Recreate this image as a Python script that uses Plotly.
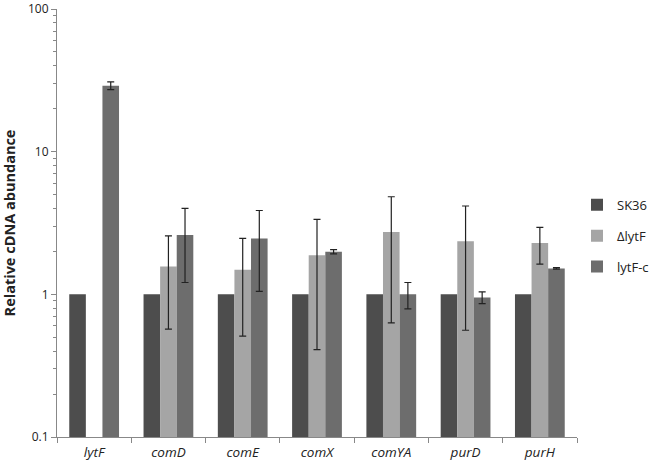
import plotly.graph_objects as go

genes = ["lytF", "comD", "comE", "comX", "comYA", "purD", "purH"]
series_names = ["SK36", "ΔlytF", "lytF-c"]
sk36 = [1, 1, 1, 1, 1, 1, 1]
sk36_err = [0, 0, 0, 0, 0, 0, 0]
dlytf = [None, 1.57, 1.49, 1.88, 2.73, 2.36, 2.29]
dlytf_err = [0, 1.0, 0.98, 1.47, 2.1, 1.8, 0.66]
lytfc = [29, 2.61, 2.46, 1.99, 1.0, 0.95, 1.52]
lytfc_err = [1.8, 1.4, 1.41, 0.07, 0.21, 0.09, 0.02]
colors = ["#4d4d4d", "#a5a5a5", "#6d6d6d"]
major_ticks = [0.1, 1, 10, 100]
major_labels = ["0.1", "1", "10", "100"]
minor_ticks = [m * d for d in (0.1, 1, 10) for m in range(2, 10)]

fig = go.Figure()
for name, vals, errs, col, show_err in [
    (series_names[0], sk36, sk36_err, colors[0], False),
    (series_names[1], dlytf, dlytf_err, colors[1], True),
    (series_names[2], lytfc, lytfc_err, colors[2], True),
]:
    fig.add_trace(go.Bar(
        x=genes, y=vals, name=name, legendgroup=name,
        marker=dict(color=col, line=dict(width=0)),
        error_y=dict(type="data", array=errs, visible=show_err,
                     color="#222222", thickness=1.2, width=3.5),
    ))

fig.update_layout(
    width=650, height=467,
    barmode="group", bargap=0.33, bargroupgap=0,
    plot_bgcolor="white", paper_bgcolor="white",
    margin=dict(l=57, r=73, t=9, b=30, autoexpand=False),
    font=dict(family="Open Sans", size=12, color="#222222"),
    legend=dict(x=1.0, y=0.47, xanchor="left", yanchor="middle",
                font=dict(size=13, color="#222222"),
                itemwidth=30, tracegroupgap=11, bgcolor="rgba(0,0,0,0)"),
    showlegend=True,
)
fig.update_xaxes(
    showline=True, linecolor="#888888", linewidth=1,
    ticks="outside", tickson="boundaries", ticklen=5, tickcolor="#888888",
    tickfont=dict(family="Open Sans", size=13.5, style="italic", color="#222222"),
    ticklabelstandoff=3,
    showgrid=False,
)
fig.update_yaxes(
    type="log", range=[-1, 2],
    tickmode="array", tickvals=major_ticks, ticktext=major_labels,
    ticklabeloverflow="allow",
    showline=True, linecolor="#888888", linewidth=1,
    ticks="outside", ticklen=5, tickcolor="#888888",
    minor=dict(tickmode="array", tickvals=minor_ticks, ticks="outside",
               ticklen=3, tickcolor="#888888", showgrid=False),
    showgrid=False,
    title=dict(text="<b>Relative cDNA abundance</b>", font=dict(size=14.5, color="#222222"), standoff=9),
    tickfont=dict(size=12, color="#222222"),
)
fig.write_html("out.html", config={"displayModeBar": False},
               post_script="document.body.style.margin='0';document.body.style.overflow='hidden';")
